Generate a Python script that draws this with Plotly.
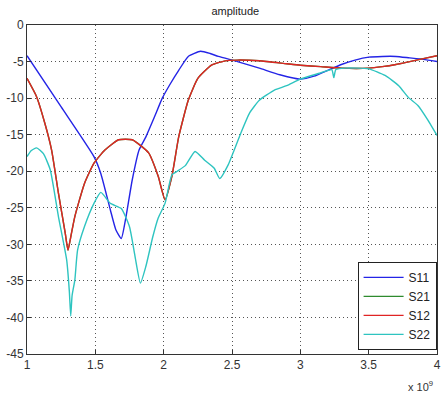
import plotly.graph_objects as go

# frequency in units of 1e9 Hz
s11_x = [1.0, 1.25, 1.49, 1.54, 1.61, 1.65, 1.69, 1.72, 1.77, 1.82, 1.87, 1.93, 1.99, 2.05, 2.11, 2.18, 2.27, 2.34, 2.40, 2.54, 2.7, 2.85, 3.0, 3.1, 3.2, 3.3, 3.4, 3.5, 3.6, 3.7, 3.8, 3.9, 4.0]
s11_y = [-4.2, -11.2, -18.0, -20.3, -25.3, -28.0, -29.2, -26.7, -21.2, -17.1, -15.3, -12.7, -10.0, -8.0, -6.2, -4.3, -3.6, -3.9, -4.3, -5.0, -5.9, -6.8, -7.4, -7.0, -6.2, -5.4, -4.8, -4.4, -4.3, -4.3, -4.5, -4.7, -5.0]

s12_x = [1.0, 1.07, 1.13, 1.18, 1.23, 1.28, 1.30, 1.32, 1.35, 1.42, 1.49, 1.57, 1.67, 1.77, 1.89, 1.96, 2.01, 2.06, 2.11, 2.18, 2.25, 2.35, 2.45, 2.54, 2.7, 2.9, 3.0, 3.15, 3.3, 3.5, 3.6, 3.7, 3.8, 3.9, 4.0]
s12_y = [-7.3, -9.8, -13.4, -17.1, -23.0, -28.5, -30.8, -29.0, -26.2, -21.7, -18.9, -17.1, -15.7, -15.7, -17.5, -20.7, -23.9, -20.7, -15.3, -10.3, -7.3, -5.5, -4.9, -4.8, -4.9, -5.3, -5.5, -5.7, -5.9, -5.9, -5.7, -5.4, -5.0, -4.6, -4.2]

s21_x = [1.0, 1.07, 1.13, 1.18, 1.23, 1.28, 1.30, 1.32, 1.35, 1.42, 1.49, 1.57, 1.67, 1.77, 1.89, 1.96, 2.01, 2.06, 2.11, 2.18, 2.25, 2.35, 2.45, 2.54, 2.7, 2.9, 3.0, 3.15, 3.3, 3.5, 3.6, 3.7, 3.8, 3.9, 4.0]
s21_y = [-7.3, -9.8, -13.4, -17.1, -23.0, -28.5, -30.8, -29.0, -26.2, -21.7, -18.9, -17.1, -15.7, -15.7, -17.5, -20.7, -23.9, -20.7, -15.3, -10.3, -7.3, -5.5, -4.9, -4.8, -4.9, -5.3, -5.5, -5.7, -5.9, -5.9, -5.7, -5.4, -5.0, -4.6, -4.2]

s22_x = [1.0, 1.03, 1.07, 1.12, 1.17, 1.23, 1.29, 1.31, 1.32, 1.33, 1.35, 1.37, 1.42, 1.49, 1.54, 1.61, 1.69, 1.75, 1.79, 1.83, 1.87, 1.92, 1.96, 2.01, 2.06, 2.10, 2.16, 2.23, 2.30, 2.37, 2.41, 2.47, 2.56, 2.63, 2.70, 2.81, 2.90, 3.0, 3.14, 3.23, 3.245, 3.26, 3.33, 3.5, 3.62, 3.72, 3.79, 3.86, 3.93, 4.0]
s22_y = [-18.0, -17.2, -16.8, -17.6, -19.8, -26.2, -32.1, -36.5, -39.8, -37.0, -34.9, -30.8, -27.6, -24.4, -22.9, -24.4, -25.1, -27.6, -31.6, -35.3, -33.0, -29.0, -26.4, -24.4, -20.5, -20.0, -19.2, -17.3, -18.5, -19.6, -21.0, -19.2, -15.0, -12.0, -10.3, -8.9, -8.3, -7.4, -6.6, -6.1, -7.2, -6.1, -5.9, -6.0, -6.9, -8.3, -9.9, -11.0, -12.9, -15.1]

x_ticks = [1, 1.5, 2, 2.5, 3, 3.5, 4]
x_labels = ["1", "1.5", "2", "2.5", "3", "3.5", "4"]
y_ticks = [0, -5, -10, -15, -20, -25, -30, -35, -40, -45]
y_labels = ["0", "-5", "-10", "-15", "-20", "-25", "-30", "-35", "-40", "-45"]

series = [
    ("S11", s11_x, s11_y, "#2424e6"),
    ("S21", s21_x, s21_y, "#2e8b2e"),
    ("S12", s12_x, s12_y, "#e02424"),
    ("S22", s22_x, s22_y, "#2ec4c0"),
]

fig = go.Figure()
for name, xs, ys, col in series:
    fig.add_trace(go.Scatter(x=xs, y=ys, mode="lines", name=name,
                             line=dict(color=col, width=1.4, shape="spline", smoothing=0.5)))

axis_common = dict(showline=True, linecolor="#333", linewidth=1, mirror=True,
                   ticks="inside", ticklen=4, tickcolor="#333",
                   showgrid=True, gridcolor="#555", griddash="1px,3px", gridwidth=1,
                   zeroline=False, ticklabeloverflow="allow",
                   tickfont=dict(family="Arial, Liberation Sans", size=12, color="#333"))

fig.update_xaxes(range=[1, 4], tickvals=x_ticks, ticktext=x_labels, **axis_common)
fig.update_yaxes(range=[-45, 0], tickvals=y_ticks, ticktext=y_labels, **axis_common)

fig.update_layout(
    width=444, height=396,
    margin=dict(l=27, r=3, t=25, b=42),
    paper_bgcolor="white", plot_bgcolor="white",
    title=dict(text="amplitude", x=0.53, xanchor="center", y=0.972, yanchor="middle",
               font=dict(family="Arial, Liberation Sans", size=11, color="#222")),
    showlegend=True,
    legend=dict(x=0.999, xanchor="right", y=0.28, yanchor="top",
                bgcolor="white", bordercolor="#222", borderwidth=1,
                font=dict(family="Arial, Liberation Sans", size=12, color="#222"),
                tracegroupgap=0, itemwidth=40),
    annotations=[dict(text="x 10<sup>9</sup>", xref="paper", yref="paper",
                      x=0.995, y=-0.097, xanchor="right", yanchor="middle", showarrow=False,
                      font=dict(family="Arial, Liberation Sans", size=11, color="#333"))],
)

fig.write_html("out.html")
